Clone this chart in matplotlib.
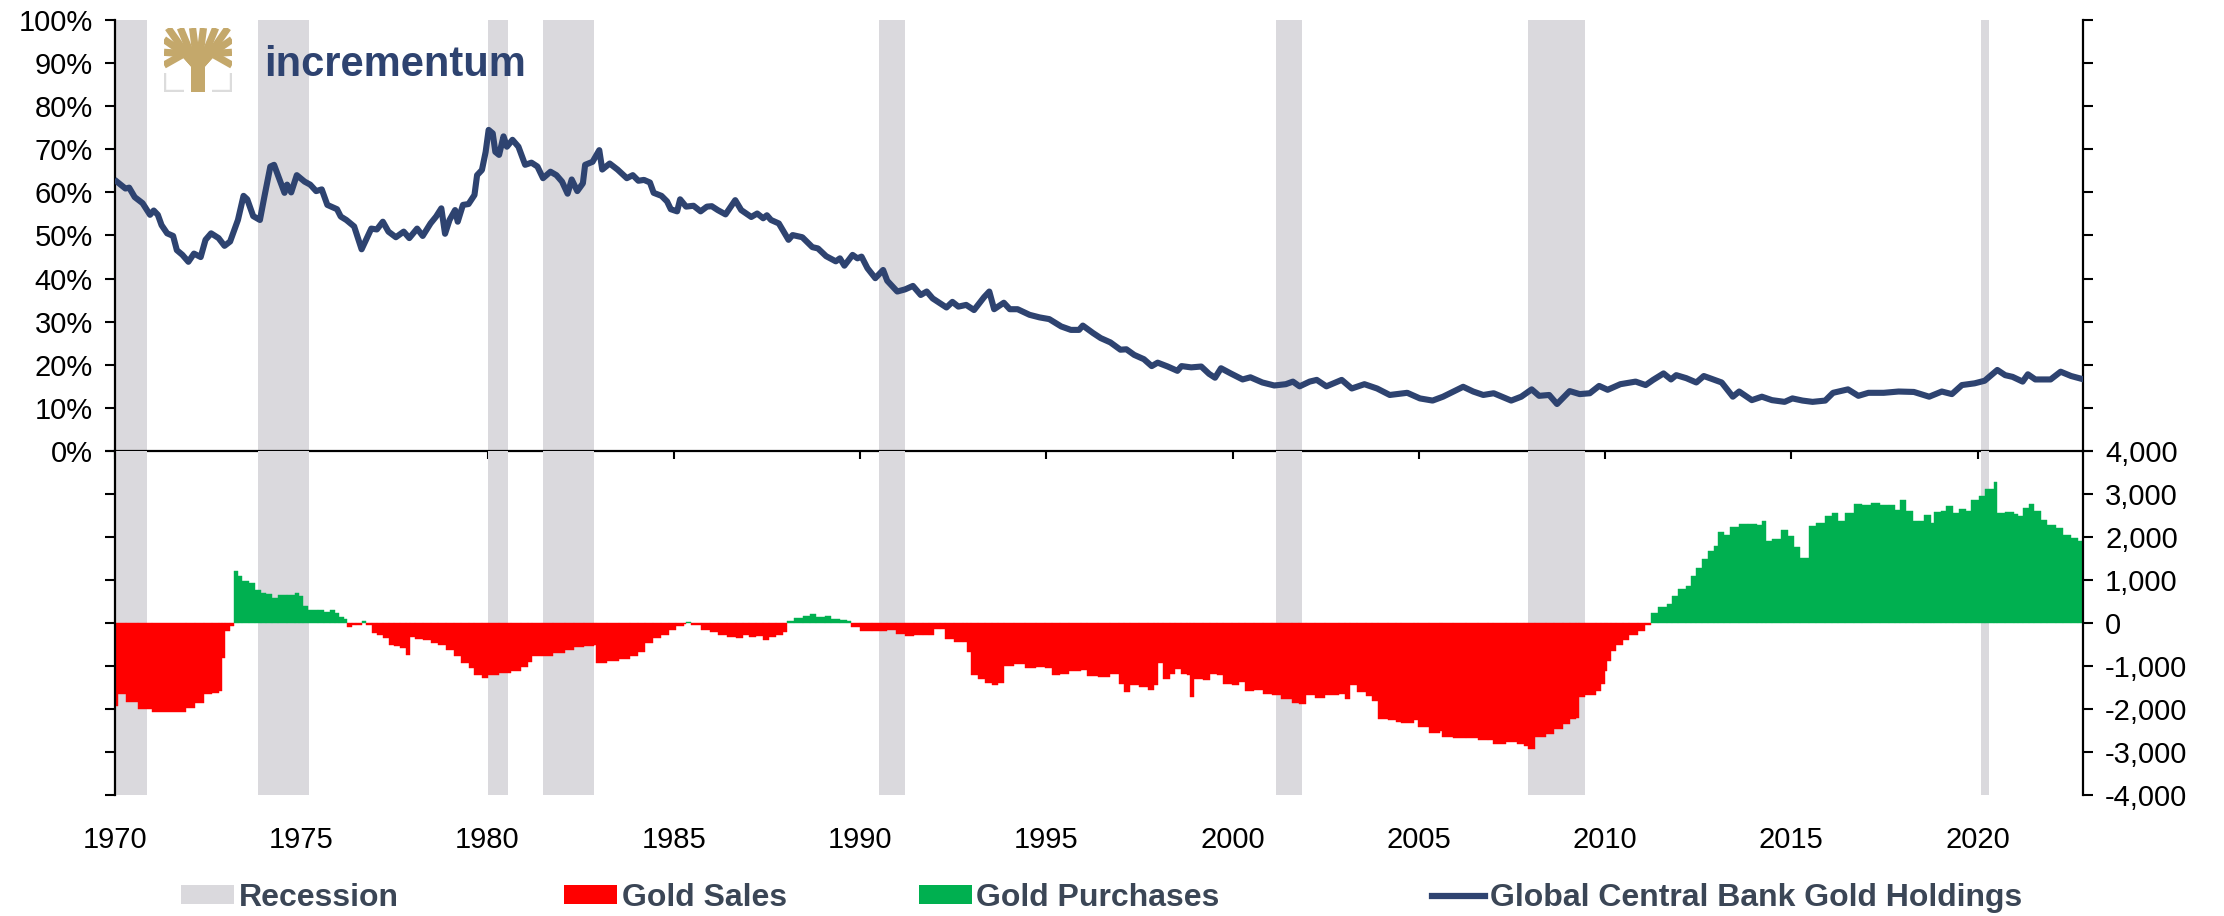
import matplotlib.pyplot as plt
import numpy as np
from matplotlib.patches import Patch, Rectangle
from matplotlib.lines import Line2D
from matplotlib.ticker import FuncFormatter

plt.rcParams['font.family'] = ['Liberation Sans', 'DejaVu Sans']

# Global central bank gold holdings, share of reserves (%)
hold_dates = [
    1970.05, 1970.28, 1970.38, 1970.53, 1970.74, 1970.94, 1971.04, 1971.15, 1971.25, 1971.40,
    1971.56, 1971.66, 1971.81, 1971.97, 1972.12, 1972.30, 1972.43, 1972.58, 1972.78, 1972.94,
    1973.09, 1973.30, 1973.45, 1973.55, 1973.71, 1973.89, 1974.01, 1974.17, 1974.27, 1974.42,
    1974.55, 1974.62, 1974.73, 1974.88, 1975.09, 1975.24, 1975.40, 1975.55, 1975.70, 1975.96,
    1976.06, 1976.21, 1976.42, 1976.62, 1976.88, 1977.03, 1977.19, 1977.34, 1977.54, 1977.75,
    1977.90, 1978.11, 1978.26, 1978.47, 1978.62, 1978.76, 1978.86, 1978.98, 1979.13, 1979.20,
    1979.34, 1979.49, 1979.65, 1979.72, 1979.85, 1979.95, 1980.03, 1980.14, 1980.21, 1980.31,
    1980.43, 1980.52, 1980.67, 1980.83, 1981.01, 1981.18, 1981.34, 1981.49, 1981.69, 1981.85,
    1982.00, 1982.15, 1982.26, 1982.41, 1982.56, 1982.62, 1982.82, 1983.00, 1983.08, 1983.28,
    1983.49, 1983.74, 1983.90, 1984.05, 1984.20, 1984.36, 1984.46, 1984.67, 1984.82, 1984.92,
    1985.09, 1985.17, 1985.33, 1985.53, 1985.72, 1985.89,
    1986.02, 1986.18, 1986.39, 1986.65, 1986.81, 1987.08, 1987.24, 1987.40, 1987.50, 1987.61,
    1987.82, 1988.08, 1988.19, 1988.45, 1988.72, 1988.87, 1989.09, 1989.35, 1989.46, 1989.58,
    1989.80, 1989.93, 1990.04, 1990.20, 1990.41, 1990.62, 1990.73, 1991.00, 1991.21, 1991.42,
    1991.63, 1991.79, 1991.95, 1992.32, 1992.48, 1992.64, 1992.85, 1993.06, 1993.33, 1993.47,
    1993.60, 1993.86, 1994.02, 1994.23, 1994.55, 1994.82, 1995.08, 1995.40, 1995.66, 1995.88,
    1995.98, 1996.25, 1996.46, 1996.72, 1996.99, 1997.15, 1997.36, 1997.62, 1997.83, 1997.99,
    1998.26, 1998.52, 1998.63, 1998.89, 1999.16, 1999.37, 1999.53, 1999.69, 1999.95, 2000.27,
    2000.48, 2000.80, 2001.12, 2001.43, 2001.62, 2001.80, 2002.07, 2002.26,
    2002.52, 2002.93, 2003.20, 2003.54, 2003.88, 2004.22, 2004.69, 2005.03, 2005.37, 2005.65,
    2006.19, 2006.46, 2006.73, 2007.01, 2007.48, 2007.75, 2008.03, 2008.23, 2008.50, 2008.71,
    2009.05, 2009.32, 2009.59, 2009.84, 2010.07, 2010.41, 2010.82, 2011.09, 2011.29, 2011.57,
    2011.77, 2011.91, 2012.18, 2012.45, 2012.65, 2013.13, 2013.43, 2013.60, 2013.94, 2014.21,
    2014.48, 2014.82, 2015.03, 2015.30, 2015.57, 2015.91, 2016.12, 2016.52, 2016.80, 2017.07,
    2017.48, 2017.88, 2018.29, 2018.70, 2019.04, 2019.31, 2019.58, 2019.92, 2020.19, 2020.53,
    2020.74, 2020.94, 2021.21, 2021.35, 2021.55, 2021.96, 2022.23, 2022.51, 2022.81,
]
hold_pct = [
    62.5, 60.9, 61.1, 58.9, 57.5, 54.8, 55.8, 54.8, 52.4, 50.5,
    49.9, 46.6, 45.5, 43.9, 45.8, 45.0, 49.0, 50.5, 49.4, 47.6,
    48.6, 53.6, 59.2, 58.4, 54.5, 53.6, 59.0, 66.0, 66.4, 62.9,
    59.9, 61.8, 60.0, 64.0, 62.5, 61.8, 60.3, 60.7, 57.1, 56.1,
    54.4, 53.6, 52.1, 46.8, 51.6, 51.4, 53.2, 50.9, 49.6, 50.9,
    49.4, 51.6, 49.9, 52.8, 54.4, 56.3, 50.4, 53.6, 55.9, 53.2,
    57.1, 57.3, 59.4, 64.0, 65.2, 69.4, 74.5, 73.7, 69.4, 68.7,
    73.0, 70.6, 72.2, 70.6, 66.4, 66.9, 66.0, 63.3, 64.8, 64.0,
    62.5, 59.7, 63.0, 60.3, 62.1, 66.4, 67.1, 69.8, 65.3, 66.7,
    65.3, 63.3, 64.0, 62.7, 62.9, 62.3, 59.9, 59.2, 57.9, 56.1,
    55.6, 58.4, 56.7, 56.9, 55.6, 56.7,
    56.8, 55.9, 54.9, 58.2, 55.9, 54.3, 55.1, 54.0, 54.7, 53.6,
    52.8, 49.0, 50.1, 49.6, 47.3, 47.0, 45.2, 44.0, 44.7, 43.0,
    45.5, 44.7, 45.1, 42.4, 40.1, 42.0, 39.5, 37.0, 37.5, 38.3,
    36.2, 37.0, 35.4, 33.3, 34.6, 33.5, 33.9, 32.7, 35.7, 37.0,
    32.9, 34.4, 32.9, 32.9, 31.6, 31.0, 30.6, 28.9, 28.1, 28.1,
    29.1, 27.4, 26.2, 25.2, 23.5, 23.6, 22.3, 21.3, 19.7, 20.5,
    19.6, 18.6, 19.7, 19.4, 19.6, 17.9, 17.0, 19.2, 18.0, 16.6,
    17.1, 15.9, 15.2, 15.5, 16.1, 15.0, 16.1, 16.5,
    15.0, 16.5, 14.5, 15.5, 14.5, 13.0, 13.5, 12.2, 11.7, 12.6,
    14.9, 13.8, 13.0, 13.4, 11.7, 12.6, 14.3, 12.8, 13.0, 10.9,
    13.9, 13.2, 13.4, 15.1, 14.2, 15.5, 16.1, 15.3, 16.5, 18.0,
    16.6, 17.6, 16.9, 15.9, 17.4, 15.9, 12.6, 13.8, 11.8, 12.6,
    11.8, 11.4, 12.2, 11.7, 11.4, 11.7, 13.5, 14.3, 12.8, 13.5,
    13.5, 13.8, 13.7, 12.6, 13.8, 13.2, 15.3, 15.7, 16.3, 18.8,
    17.6, 17.2, 16.1, 17.8, 16.6, 16.6, 18.4, 17.4, 16.7,
]

# Net central bank gold purchases (+) / sales (-), tonnes
cb_dates = [
    1970.00, 1970.07, 1970.30, 1970.62, 1971.00, 1971.90, 1972.15, 1972.40, 1972.60, 1972.79,
    1972.86, 1972.94, 1973.09, 1973.19, 1973.30, 1973.40, 1973.61, 1973.76, 1973.91, 1974.06,
    1974.22, 1974.37, 1974.63, 1974.83, 1974.93, 1975.04, 1975.19, 1975.45, 1975.60, 1975.76,
    1975.91, 1976.01, 1976.16, 1976.22, 1976.37, 1976.48, 1976.63, 1976.73, 1976.89, 1977.04,
    1977.19, 1977.35, 1977.50, 1977.65, 1977.81, 1977.91, 1978.06, 1978.26, 1978.47, 1978.67,
    1978.88, 1979.09, 1979.29, 1979.50, 1979.65, 1979.86, 1980.01, 1980.32, 1980.63, 1980.89,
    1981.10, 1981.20, 1981.46, 1981.77, 1982.08, 1982.33, 1982.59, 1982.85, 1982.92, 1983.21,
    1983.52, 1983.83, 1984.03, 1984.24, 1984.44, 1984.65, 1984.86, 1985.06, 1985.27, 1985.32,
    1985.47, 1985.73, 1985.97,
    1986.19, 1986.43, 1986.67, 1986.85, 1987.03, 1987.21, 1987.39, 1987.56, 1987.74, 1987.92,
    1988.04, 1988.22, 1988.46, 1988.66, 1988.82, 1989.06, 1989.23, 1989.47, 1989.65, 1989.77,
    1990.01, 1990.31, 1990.55, 1990.73, 1990.97, 1991.21, 1991.44, 1991.68, 1991.86, 1991.98,
    1992.16, 1992.28, 1992.52, 1992.76, 1992.88, 1992.99, 1993.17, 1993.35, 1993.53, 1993.71,
    1993.87, 1994.13, 1994.43, 1994.73, 1994.97, 1995.15, 1995.38, 1995.62, 1995.92, 1996.10,
    1996.40, 1996.70, 1996.94, 1997.09, 1997.24, 1997.48, 1997.72, 1997.89, 1998.01, 1998.13,
    1998.31, 1998.45, 1998.61, 1998.79, 1998.85, 1998.97, 1999.21, 1999.39, 1999.57, 1999.75,
    1999.99, 2000.16, 2000.34, 2000.58, 2000.82, 2001.06, 2001.30, 2001.60, 2001.78, 2001.96,
    2002.20, 2002.49, 2002.85, 2003.03, 2003.15, 2003.33, 2003.57, 2003.75, 2003.90, 2004.16,
    2004.38,
    2004.51, 2004.86, 2004.98, 2005.28, 2005.57, 2005.63, 2005.93, 2006.28, 2006.58, 2006.87,
    2006.99, 2007.34, 2007.64, 2007.82, 2007.93, 2008.11, 2008.41, 2008.64, 2008.88, 2009.06,
    2009.23, 2009.29, 2009.47, 2009.76, 2009.88, 2010.00, 2010.06, 2010.15, 2010.30, 2010.47,
    2010.65, 2010.89, 2011.06, 2011.22, 2011.42, 2011.65, 2011.81, 2011.95, 2012.18, 2012.30,
    2012.44, 2012.60, 2012.77, 2012.92, 2013.03, 2013.19, 2013.36, 2013.60, 2013.84, 2014.07,
    2014.21, 2014.31, 2014.49, 2014.72, 2014.90, 2015.08, 2015.23, 2015.47, 2015.67, 2015.90,
    2016.08, 2016.26, 2016.43, 2016.67, 2016.91, 2017.14, 2017.38, 2017.62, 2017.79, 2017.91,
    2018.09, 2018.26, 2018.44, 2018.56, 2018.74, 2018.82, 2019.03, 2019.15, 2019.33, 2019.50,
    2019.68, 2019.83, 2020.04, 2020.21, 2020.43, 2020.51, 2020.74, 2020.98, 2021.09, 2021.21,
    2021.37, 2021.51, 2021.69, 2021.86, 2022.10, 2022.28, 2022.51, 2022.69, 2022.81,
]
cb_net = [
    -1930, -1660, -1830, -2010, -2060, -1970, -1855, -1660, -1620, -1570,
    -810, -190, -75, 1215, 1083, 967, 928, 774, 696, 673,
    580, 657, 657, 696, 619, 387, 310, 294, 255, 310,
    232, 132, 101, -100, -54, -39, 54, -54, -232, -286,
    -348, -503, -541, -580, -735, -333, -371, -387, -464, -503,
    -619, -774, -928, -1044, -1199, -1276, -1199, -1160, -1106, -1029,
    -905, -774, -774, -696, -619, -565, -541, -503, -928, -889,
    -828, -774, -673, -464, -348, -271, -155, -77, -23, 23,
    -54, -155, -209,
    -270, -325, -348, -270, -325, -309, -387, -325, -270, -209,
    39, 116, 162, 201, 139, 155, 101, 62, 39, -93,
    -186, -193, -193, -170, -247, -301, -270, -270, -286, -147,
    -132, -363, -441, -441, -673, -1214, -1307, -1385, -1446, -1385,
    -998, -944, -1044, -1021, -1044, -1199, -1176, -1122, -1098, -1230,
    -1253, -1176, -1408, -1601, -1446, -1485, -1562, -1446, -921, -1307,
    -1176, -1060, -1176, -1199, -1717, -1307, -1330, -1176, -1214, -1408,
    -1446, -1369, -1586, -1562, -1640, -1678, -1771, -1872, -1895, -1678,
    -1740, -1663, -1640, -1771, -1446, -1601, -1694, -1817, -2236, -2259,
    -2298,
    -2320, -2266, -2420, -2552, -2514, -2653, -2684, -2668, -2715, -2730,
    -2807, -2761, -2823, -2862, -2939, -2653, -2591, -2475, -2344, -2243,
    -2204, -1725, -1678, -1570, -1415, -1121, -888, -656, -502, -385,
    -269, -176, -52, 233, 365, 443, 621, 799, 853, 1086,
    1279, 1495, 1666, 1782, 2114, 2053, 2223, 2301, 2301, 2285,
    2362, 1898, 1960, 2169, 2014, 1759, 1511, 2246, 2324, 2479,
    2556, 2378, 2556, 2765, 2750, 2788, 2750, 2750, 2634, 2866,
    2595, 2362, 2378, 2517, 2324, 2579, 2595, 2711, 2556, 2657,
    2611, 2866, 2943, 3121, 3276, 2556, 2579, 2533, 2479, 2672,
    2765, 2611, 2401, 2285, 2207, 2037, 1975, 1913, 1782,
]

# US recessions (start, end) as decimal years
rec_start = [1969.92, 1973.83, 1980.00, 1981.50, 1990.50, 2001.17, 2007.92, 2020.08]
rec_end = [1970.87, 1975.20, 1980.54, 1982.87, 1991.20, 2001.87, 2009.46, 2020.30]

NAVY = '#2E4370'
RED = '#FF0000'
GREEN = '#00B050'
GREY = '#DAD9DD'
GOLD = '#C4A86B'
TXT = '#3B4656'

W, H = 2224, 916
fig = plt.figure(figsize=(W / 100, H / 100), dpi=100)
left = 115 / W
width = (2083 - 115) / W
ax1 = fig.add_axes([left, 1 - 451 / H, width, (451 - 20) / H])
ax2 = fig.add_axes([left, 1 - 795 / H, width, (795 - 451) / H])

for ax in (ax1, ax2):
    ax.set_xlim(1970, 2022.83)
    for s, e in zip(rec_start, rec_end):
        ax.axvspan(s, e, color=GREY, lw=0, zorder=0)
    ax.set_facecolor('none')

# top panel: holdings line
ax1.plot(hold_dates, hold_pct, color=NAVY, lw=4.4, zorder=3, solid_joinstyle='round')
ax1.set_ylim(0, 100)
ax1.set_yticks(range(0, 101, 10))
ax1.yaxis.set_major_formatter(FuncFormatter(lambda v, p: f'{v:.0f}%'))
ax1.set_xticks(range(1970, 2021, 5))
ax1.spines['top'].set_visible(False)
for sp in ('left', 'right', 'bottom'):
    ax1.spines[sp].set_linewidth(1.6)
ax1.tick_params(axis='y', direction='out', length=7, width=1.5, labelsize=21, pad=9,
                left=True, right=True, labelleft=True, labelright=False)
ax1.tick_params(axis='x', direction='out', length=6, width=1.5, labelbottom=False)

# bottom panel: cumulative sales / purchases
d = np.array(cb_dates)
v = np.array(cb_net)
wd = np.diff(np.append(d, 2022.9))
cols = np.where(v >= 0, GREEN, RED)
ax2.bar(d, v, width=wd, align='edge', color=cols, edgecolor=cols, linewidth=0.3, zorder=2)
ax2.set_ylim(-4000, 4000)
ax2.set_yticks(range(-4000, 4001, 1000))
ax2.yaxis.set_major_formatter(FuncFormatter(lambda v, p: f'{v:,.0f}'))
ax2.set_xticks(range(1970, 2021, 5))
ax2.spines['top'].set_visible(False)
ax2.spines['bottom'].set_visible(False)
for sp in ('left', 'right'):
    ax2.spines[sp].set_linewidth(1.6)
ax2.tick_params(axis='y', direction='out', length=7, width=1.5, labelsize=21, pad=9,
                left=True, right=True, labelleft=False, labelright=True)
ax2.tick_params(axis='x', length=0, labelsize=21, pad=22)

# logo
lax = fig.add_axes([164 / W, 1 - 92 / H, 68 / W, 64 / H])
lax.set_xlim(0, 1)
lax.set_ylim(0, 1)
lax.axis('off')
lax.add_patch(Rectangle((0.40, 0.0), 0.20, 0.45, color=GOLD, lw=0))
for tx, ty in [(0.0, 0.42), (0.0, 0.62), (0.0, 0.82), (0.06, 1.0), (0.24, 1.0), (0.42, 1.0),
               (0.58, 1.0), (0.76, 1.0), (0.94, 1.0), (1.0, 0.82), (1.0, 0.62), (1.0, 0.42)]:
    mx = 0.5 + (tx - 0.5) * 0.4
    lax.plot([0.5, mx, tx], [0.36, 0.6, ty], color=GOLD, lw=5.2, solid_capstyle='butt')
lax.plot([0.0, 0.0, 0.3], [0.3, 0.0, 0.0], color='#DCDCDC', lw=3.2, solid_capstyle='butt')
lax.plot([1.0, 1.0, 0.7], [0.3, 0.0, 0.0], color='#DCDCDC', lw=3.2, solid_capstyle='butt')
fig.text(264 / W, 1 - 76 / H, 'incrementum', fontsize=30, fontweight='bold', color=NAVY,
         va='baseline', ha='left')

# legend, one entry per block
items = [
    (181, Patch(facecolor=GREY, edgecolor='none'), 'Recession'),
    (564, Patch(facecolor=RED, edgecolor='none'), 'Gold Sales'),
    (919, Patch(facecolor=GREEN, edgecolor='none'), 'Gold Purchases'),
    (1432, Line2D([], [], color=NAVY, lw=4.5), 'Global Central Bank Gold Holdings'),
]
for px, h, lab in items:
    fig.legend(handles=[h], labels=[lab], loc='center left',
               bbox_to_anchor=(px / W, 1 - 898 / H), frameon=False,
               borderpad=0, borderaxespad=0, handlelength=1.65, handleheight=0.55,
               handletextpad=0.15, prop={'weight': 'bold', 'size': 23},
               labelcolor=TXT)

fig.savefig('out.png', dpi=100)
